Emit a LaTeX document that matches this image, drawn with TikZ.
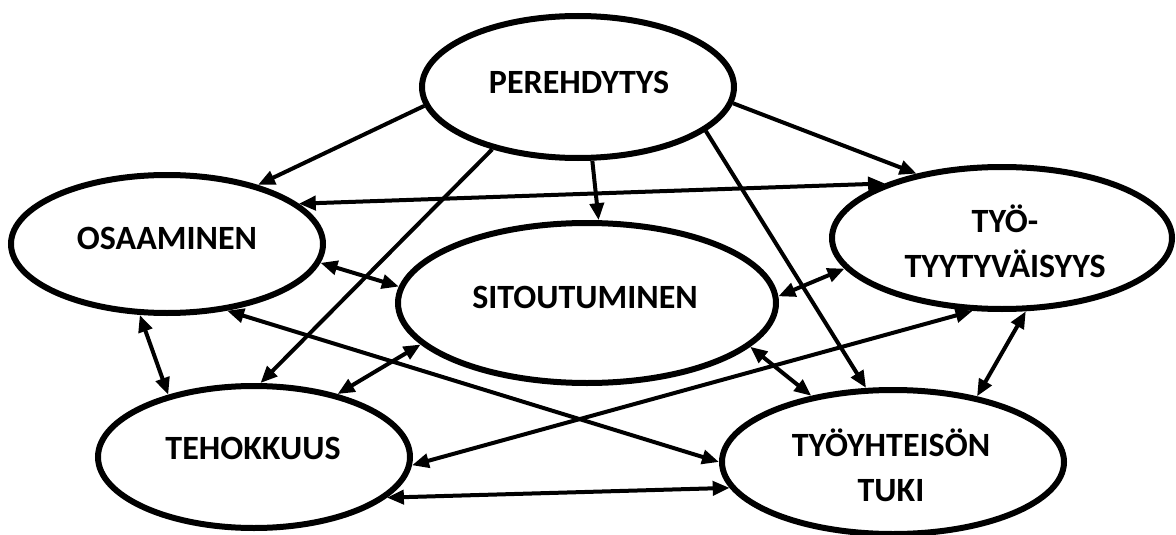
\documentclass[tikz,border=0pt]{standalone}
\usepackage{fontspec}
\setmainfont{Carlito}
\usetikzlibrary{arrows.meta,shapes.geometric}
\begin{document}
\begin{tikzpicture}[x=1pt,y=-1pt,
  blob/.style={ellipse, draw=black, line width=6pt, fill=white, inner sep=0pt},
  lbl/.style={font=\fontsize{34pt}{45pt}\selectfont\bfseries, align=center, inner sep=0pt},
  conn/.style={line width=4pt, -{Triangle[length=17pt,width=14pt]}},
  bi/.style={line width=4pt, {Triangle[length=17pt,width=14pt]}-{Triangle[length=17pt,width=14pt]}}]
\fill[white] (0,0) rectangle (1176,535);
\useasboundingbox (0,0) rectangle (1176,535);
% ellipses
\node[blob, minimum width=312pt, minimum height=142pt] (P) at (578,87) {};
\node[blob, minimum width=312pt, minimum height=138pt] (O) at (167,244) {};
\node[blob, minimum width=378pt, minimum height=160pt] (S) at (587,303) {};
\node[blob, minimum width=340pt, minimum height=142pt] (Y) at (1002,238) {};
\node[blob, minimum width=312pt, minimum height=142pt] (T) at (254,457) {};
\node[blob, minimum width=342pt, minimum height=144pt] (U) at (893,462) {};
% labels
\node[lbl] (Pt) at (579,82) {PEREHDYTYS};
\node[lbl] (Ot) at (167,238) {OSAAMINEN};
\node[lbl] (St) at (585,297) {SITOUTUMINEN};
\node[lbl] (Yt) at (1005,241) {TYÖ-\\TYYTYVÄISYYS};
\node[lbl] (Tt) at (253,448) {TEHOKKUUS};
\node[lbl] (Ut) at (891,465) {TYÖYHTEISÖN\\TUKI};
% connectors
\draw[conn] (P.187.4) -- (O.33.2);
\draw[bi] (O.17.3) -- (Y.155.2);
\draw[conn] (P.354.6) -- (Y.143.8);
\draw[conn] (P.281.6) -- (S.82.5);
\draw[conn] (P.216.8) -- (T.85.7);
\draw[conn] (P.341.7) -- (U.110.7);
\draw[bi] (Y.288) -- (U.38.8);
\draw[bi] (S.345.6) -- (U.141.8);
\draw[bi] (S.194.2) -- (T.37.7);
\draw[bi] (O.312.6) -- (U.180);
\draw[bi] (T.343.3) -- (U.189.6);
\draw[bi] (Y.248.6) -- (T.357.8);
\draw[bi] (S.2.7) -- (Y.191.4);
\draw[bi] (O.353.5) -- (S.175.2);
\draw[bi] (O.249.8) -- (T.144.5);
\end{tikzpicture}
\end{document}
